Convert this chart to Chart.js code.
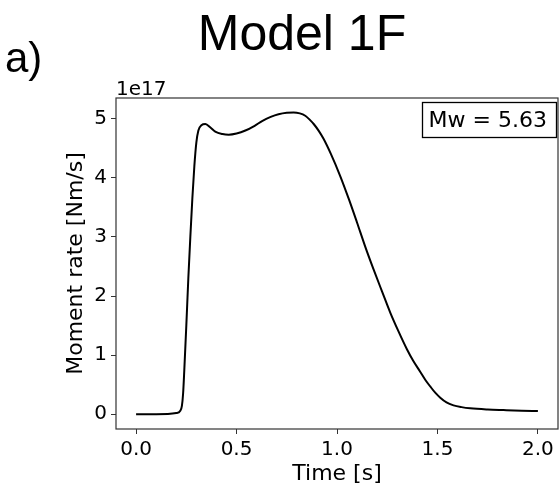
<!DOCTYPE html>
<html lang="en">
<head>
    <meta charset="UTF-8">
    <title>Model 1F</title>
    <script src="https://cdn.jsdelivr.net/npm/chart.js"></script>
    <style>
        body { margin: 0; padding: 0; background: #fff; }
        #chart-container { position: relative; width: 560px; height: 493px; }
    </style>
</head>
<body>

<div id="chart-container">
    <canvas id="momentChart"></canvas>
</div>

<script>
    // Moment rate function, values in units of 1e17 Nm/s
    const timeSec = [0, 0.1, 0.2, 0.22, 0.228, 0.234, 0.24, 0.25, 0.26, 0.27, 0.28, 0.29, 0.3, 0.31,
        0.325, 0.345, 0.37, 0.394, 0.43, 0.461, 0.5, 0.544, 0.59, 0.627, 0.67, 0.709, 0.75, 0.784, 0.815,
        0.842, 0.865, 0.884, 0.91, 0.933, 0.97, 1.016, 1.06, 1.1, 1.14, 1.182, 1.225, 1.265, 1.305, 1.348,
        1.38, 1.414, 1.44, 1.464, 1.49, 1.514, 1.545, 1.58, 1.62, 1.663, 1.75, 1.829, 1.92, 2.0];
    const momentRate = [0, 0, 0.02, 0.06, 0.14, 0.35, 0.75, 1.5, 2.3, 3.0, 3.65, 4.2, 4.6, 4.8,
        4.89, 4.91, 4.85, 4.78, 4.74, 4.73, 4.75, 4.80, 4.88, 4.96, 5.03, 5.075, 5.10, 5.105, 5.09,
        5.05, 4.98, 4.91, 4.79, 4.66, 4.40, 4.03, 3.63, 3.24, 2.84, 2.45, 2.07, 1.72, 1.41, 1.10,
        0.90, 0.72, 0.58, 0.47, 0.36, 0.28, 0.20, 0.15, 0.12, 0.10, 0.08, 0.07, 0.06, 0.055];
    const xTicks = [0.0, 0.5, 1.0, 1.5, 2.0];
    const yTicks = [0, 1, 2, 3, 4, 5];
    const offsetLabel = '1e17';
    const magnitudeLabel = 'Mw = 5.63';
    const panelLabel = 'a)';
    const titleText = 'Model 1F';

    const tickFont = { family: 'DejaVu Sans', size: 20 };
    const labelFont = { family: 'DejaVu Sans', size: 22 };

    // extra text + frame, matplotlib style
    const decorations = {
        id: 'decorations',
        afterDraw(chart) {
            const ctx = chart.ctx;
            const a = chart.chartArea;
            ctx.save();
            ctx.strokeStyle = '#333';
            ctx.lineWidth = 1.2;
            ctx.strokeRect(a.left, a.top, a.right - a.left, a.bottom - a.top);

            ctx.fillStyle = '#000';
            ctx.textBaseline = 'alphabetic';
            ctx.font = '50px "Liberation Sans", Arial, sans-serif';
            ctx.textAlign = 'center';
            ctx.fillText(titleText, 302, 50);
            ctx.font = '42px "Liberation Sans", Arial, sans-serif';
            ctx.textAlign = 'left';
            ctx.fillText(panelLabel, 5, 72);

            ctx.font = '20px "DejaVu Sans"';
            ctx.fillText(offsetLabel, 116, 95);

            // Mw box
            ctx.lineWidth = 1.3;
            ctx.strokeStyle = '#000';
            ctx.strokeRect(422.5, 102.5, 134, 35);
            ctx.font = '22px "DejaVu Sans"';
            ctx.fillText(magnitudeLabel, 428.5, 127);
            ctx.restore();
        }
    };

    const ctx = document.getElementById('momentChart').getContext('2d');
    const momentChart = new Chart(ctx, {
        type: 'line',
        data: {
            datasets: [{
                label: 'Moment rate',
                data: timeSec.map((t, i) => ({ x: t, y: momentRate[i] })),
                borderColor: '#000',
                borderWidth: 2,
                pointRadius: 0,
                fill: false,
                cubicInterpolationMode: 'monotone'
            }]
        },
        options: {
            responsive: true,
            maintainAspectRatio: false,
            animation: false,
            layout: { padding: { top: 98, right: 2, left: 0, bottom: 0 } },
            plugins: { legend: { display: false }, tooltip: { enabled: false } },
            scales: {
                x: {
                    type: 'linear',
                    min: -0.1,
                    max: 2.1,
                    afterFit: (scale) => { scale.height = 64; },
                    afterBuildTicks: (scale) => { scale.ticks = xTicks.map(v => ({ value: v })); },
                    border: { display: false },
                    grid: { drawOnChartArea: false, drawTicks: true, tickLength: 5, color: '#333' },
                    ticks: {
                        color: '#000',
                        font: tickFont,
                        padding: 4,
                        maxRotation: 0,
                        callback: (v) => v.toFixed(1)
                    },
                    title: {
                        display: true,
                        text: 'Time [s]',
                        color: '#000',
                        font: labelFont,
                        padding: { top: 0, bottom: 6 }
                    }
                },
                y: {
                    type: 'linear',
                    min: -0.25,
                    max: 5.35,
                    afterFit: (scale) => { scale.width = 116; },
                    afterBuildTicks: (scale) => { scale.ticks = yTicks.map(v => ({ value: v })); },
                    border: { display: false },
                    grid: { drawOnChartArea: false, drawTicks: true, tickLength: 5, color: '#333' },
                    ticks: {
                        color: '#000',
                        font: tickFont,
                        padding: 4,
                        callback: (v) => String(v)
                    },
                    title: {
                        display: true,
                        text: 'Moment rate [Nm/s]',
                        color: '#000',
                        font: labelFont,
                        padding: { top: 63, bottom: 0 }
                    }
                }
            }
        },
        plugins: [decorations]
    });
</script>

</body>
</html>
